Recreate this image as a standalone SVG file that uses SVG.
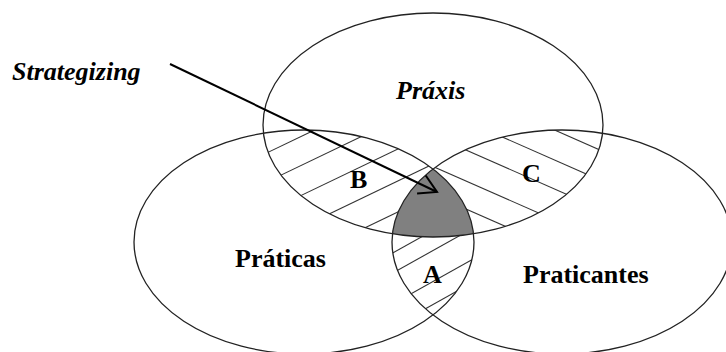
<svg xmlns="http://www.w3.org/2000/svg" width="726" height="352" viewBox="0 0 726 352">
<style>
.outline{fill:none;stroke:#222;stroke-width:1.3}
.hatch{stroke:#333;stroke-width:1.1;fill:none}
.lbl{font-family:"Liberation Serif","Times New Roman",serif;font-size:26px;font-weight:bold;fill:#000}
.it{font-style:italic}
.conn{stroke:#000;stroke-width:2;fill:none}
</style>
<defs>
<clipPath id="cT"><ellipse cx="433" cy="125" rx="170" ry="112"/></clipPath>
<clipPath id="cL"><ellipse cx="304" cy="242" rx="170" ry="112"/></clipPath>
<clipPath id="cR"><ellipse cx="562" cy="242" rx="170" ry="112"/></clipPath>
<marker id="arr" markerWidth="24" markerHeight="24" refX="20" refY="12" orient="auto" markerUnits="userSpaceOnUse">
<path d="M2.7,2 L20,12 L2.7,22" fill="none" stroke="#000" stroke-width="2"/>
</marker>
</defs>
<g id="hatch-B" clip-path="url(#cT)"><g clip-path="url(#cL)">
<line class="hatch" x1="200" y1="185" x2="520" y2="31.4"/>
<line class="hatch" x1="200" y1="214" x2="520" y2="60.4"/>
<line class="hatch" x1="200" y1="244" x2="520" y2="90.4"/>
<line class="hatch" x1="200" y1="276" x2="520" y2="122.4"/>
<line class="hatch" x1="200" y1="307" x2="520" y2="153.4"/>
</g></g>
<g id="hatch-C" clip-path="url(#cT)"><g clip-path="url(#cR)">
<line class="hatch" x1="400" y1="62" x2="640" y2="167.6"/>
<line class="hatch" x1="400" y1="92" x2="640" y2="197.6"/>
<line class="hatch" x1="400" y1="121" x2="640" y2="226.6"/>
<line class="hatch" x1="400" y1="152" x2="640" y2="257.6"/>
<line class="hatch" x1="400" y1="180" x2="640" y2="285.6"/>
</g></g>
<g id="hatch-A" clip-path="url(#cL)"><g clip-path="url(#cR)">
<line class="hatch" x1="370" y1="265.8" x2="500" y2="193"/>
<line class="hatch" x1="370" y1="285.8" x2="500" y2="213"/>
<line class="hatch" x1="370" y1="316.8" x2="500" y2="244"/>
<line class="hatch" x1="370" y1="339.8" x2="500" y2="267"/>
</g></g>
<g id="core" clip-path="url(#cL)"><g clip-path="url(#cR)">
<ellipse cx="433" cy="125" rx="170" ry="112" fill="#808080"/>
</g></g>
<g id="praxis">
<ellipse class="outline" cx="433" cy="125" rx="170" ry="112"/>
<text class="lbl it" x="396" y="99">Práxis</text>
</g>
<g id="praticas">
<ellipse class="outline" cx="304" cy="242" rx="170" ry="112"/>
<text class="lbl" x="235" y="267">Práticas</text>
</g>
<g id="praticantes">
<ellipse class="outline" cx="562" cy="242" rx="170" ry="112"/>
<text class="lbl" x="523" y="283">Praticantes</text>
</g>
<g id="region-B"><text class="lbl" x="350" y="188">B</text></g>
<g id="region-C"><text class="lbl" x="522" y="182">C</text></g>
<g id="region-A"><text class="lbl" x="423" y="283">A</text></g>
<g id="strategizing"><text class="lbl it" x="12" y="80">Strategizing</text></g>
<g id="connectors">
<line class="conn" x1="170" y1="64" x2="437" y2="192" marker-end="url(#arr)"/>
</g>
</svg>
